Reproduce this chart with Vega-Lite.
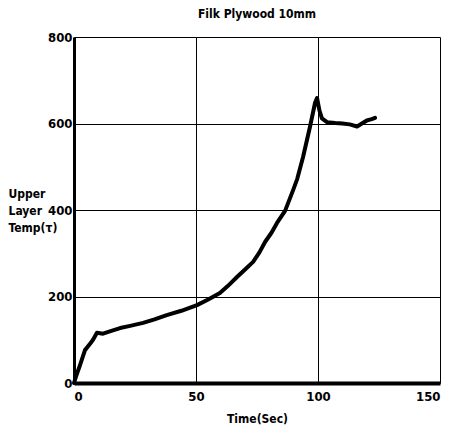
{
  "$schema": "https://vega.github.io/schema/vega-lite/v6.json",
  "autosize": "none",
  "width": 366,
  "height": 346,
  "padding": {"left": 74, "top": 37, "right": 9, "bottom": 57},
  "background": "white",
  "title": {
    "text": "Filk Plywood 10mm",
    "font": "DejaVu Sans Condensed",
    "fontSize": 12,
    "fontWeight": "bold",
    "color": "black",
    "anchor": "middle",
    "offset": 10
  },
  "config": {
    "view": {"stroke": null},
    "axis": {
      "labelFont": "DejaVu Sans Condensed",
      "labelFontWeight": "bold",
      "labelFontSize": 13,
      "labelColor": "black",
      "titleFont": "DejaVu Sans Condensed",
      "titleFontWeight": "bold",
      "titleFontSize": 12,
      "titleColor": "black",
      "gridColor": "black",
      "gridOpacity": 1,
      "gridWidth": 1,
      "domainColor": "black",
      "ticks": false
    }
  },
  "data": {
    "values": [
      {"t": 0, "temp": 0},
      {"t": 1, "temp": 18},
      {"t": 2.5, "temp": 42},
      {"t": 4.5, "temp": 76},
      {"t": 6.5, "temp": 90},
      {"t": 7.8, "temp": 100},
      {"t": 9.4, "temp": 116},
      {"t": 11.9, "temp": 114},
      {"t": 15, "temp": 120},
      {"t": 18.9, "temp": 127},
      {"t": 23, "temp": 132},
      {"t": 28.3, "temp": 139},
      {"t": 33, "temp": 147},
      {"t": 38, "temp": 157},
      {"t": 44, "temp": 167},
      {"t": 50.4, "temp": 180},
      {"t": 55, "temp": 193},
      {"t": 59.8, "temp": 208},
      {"t": 63, "temp": 224},
      {"t": 66.8, "temp": 245},
      {"t": 70, "temp": 262},
      {"t": 73.4, "temp": 280},
      {"t": 76, "temp": 302},
      {"t": 78.3, "temp": 326},
      {"t": 81, "temp": 348},
      {"t": 83.2, "temp": 370},
      {"t": 86.5, "temp": 398},
      {"t": 89.8, "temp": 446},
      {"t": 91.5, "temp": 472},
      {"t": 93.9, "temp": 523},
      {"t": 96.7, "temp": 592},
      {"t": 98.8, "temp": 648},
      {"t": 99.6, "temp": 659},
      {"t": 100.6, "temp": 630},
      {"t": 101.6, "temp": 612},
      {"t": 103.7, "temp": 603},
      {"t": 107, "temp": 601},
      {"t": 110, "temp": 600},
      {"t": 113, "temp": 598},
      {"t": 116, "temp": 593},
      {"t": 118, "temp": 600},
      {"t": 120, "temp": 607},
      {"t": 122, "temp": 610},
      {"t": 123.4, "temp": 613}
    ]
  },
  "mark": {"type": "line", "color": "black", "strokeWidth": 4, "strokeJoin": "round", "strokeCap": "round"},
  "encoding": {
    "x": {
      "field": "t",
      "type": "quantitative",
      "scale": {"domain": [0, 150], "nice": false},
      "axis": {
        "values": [0, 50, 100, 150],
        "title": "Time(Sec)",
        "titlePadding": 10,
        "labelPadding": 7,
        "domainWidth": 4,
        "grid": true
      }
    },
    "y": {
      "field": "temp",
      "type": "quantitative",
      "scale": {"domain": [0, 800], "nice": false},
      "axis": {
        "values": [0, 200, 400, 600, 800],
        "title": ["Upper", "Layer", "Temp(τ)"],
        "titleAngle": 0,
        "titleAlign": "left",
        "titleBaseline": "top",
        "titleX": -66,
        "titleY": 151,
        "titleLineHeight": 17,
        "labelPadding": 2,
        "domainWidth": 3,
        "grid": true
      }
    }
  }
}
